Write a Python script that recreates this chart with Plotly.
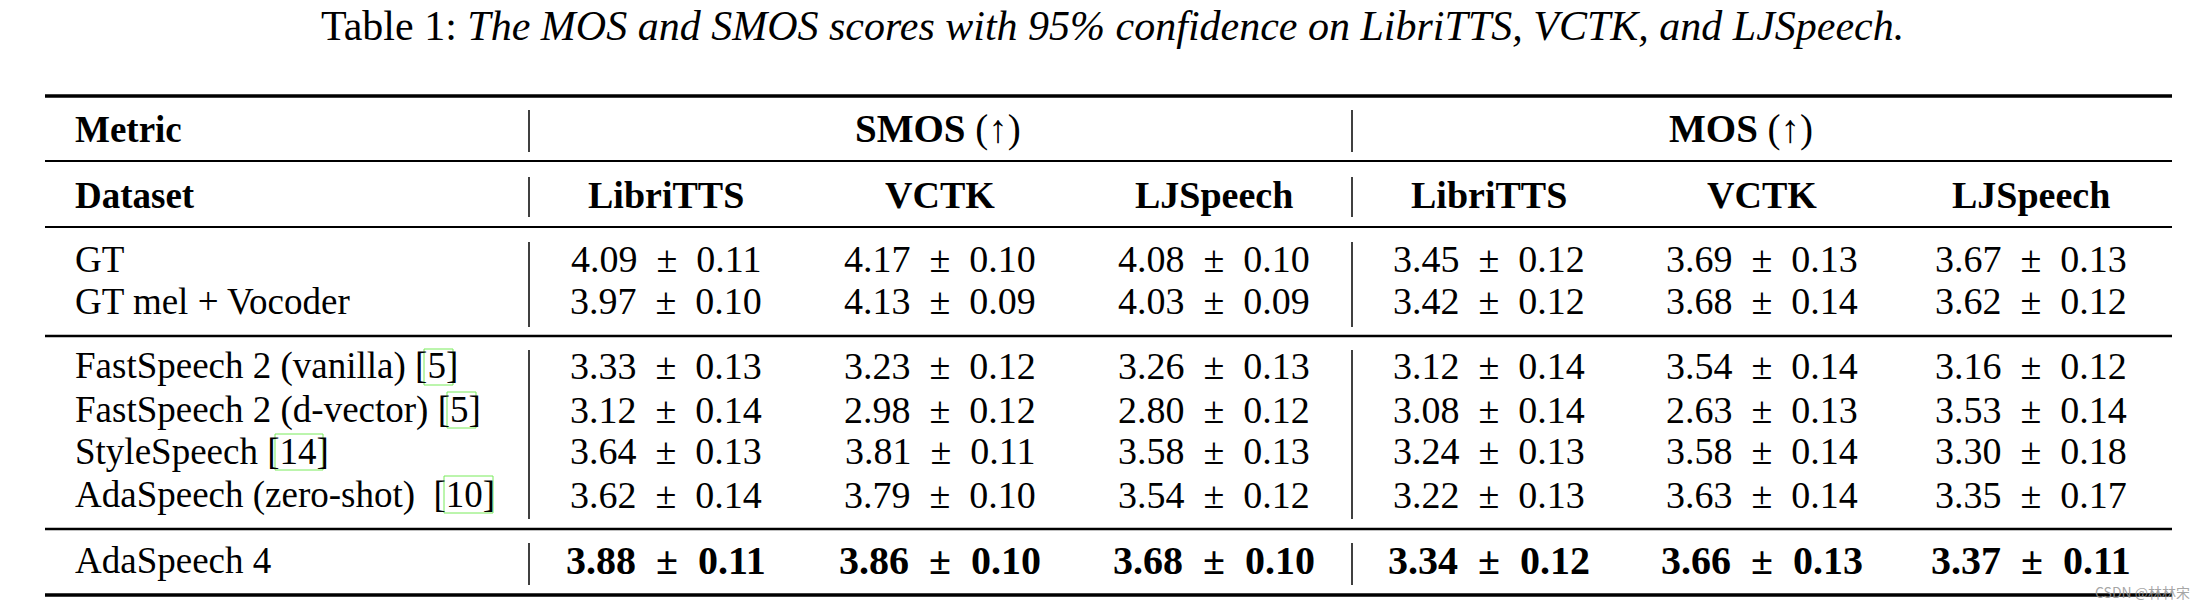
import plotly.graph_objects as go

# ---------------- data ----------------
methods = ["GT", "GT mel + Vocoder", "FastSpeech 2 (vanilla) [5]", "FastSpeech 2 (d-vector) [5]",
           "StyleSpeech [14]", "AdaSpeech (zero-shot)  [10]", "AdaSpeech 4"]
datasets = ["LibriTTS", "VCTK", "LJSpeech"]
metrics = ["SMOS", "MOS"]

smos_libritts = [4.09, 3.97, 3.33, 3.12, 3.64, 3.62, 3.88]
smos_libritts_ci = [0.11, 0.10, 0.13, 0.14, 0.13, 0.14, 0.11]
smos_vctk = [4.17, 4.13, 3.23, 2.98, 3.81, 3.79, 3.86]
smos_vctk_ci = [0.10, 0.09, 0.12, 0.12, 0.11, 0.10, 0.10]
smos_ljspeech = [4.08, 4.03, 3.26, 2.80, 3.58, 3.54, 3.68]
smos_ljspeech_ci = [0.10, 0.09, 0.13, 0.12, 0.13, 0.12, 0.10]
mos_libritts = [3.45, 3.42, 3.12, 3.08, 3.24, 3.22, 3.34]
mos_libritts_ci = [0.12, 0.12, 0.14, 0.14, 0.13, 0.13, 0.12]
mos_vctk = [3.69, 3.68, 3.54, 2.63, 3.58, 3.63, 3.66]
mos_vctk_ci = [0.13, 0.14, 0.14, 0.13, 0.14, 0.14, 0.13]
mos_ljspeech = [3.67, 3.62, 3.16, 3.53, 3.30, 3.35, 3.37]
mos_ljspeech_ci = [0.13, 0.12, 0.12, 0.14, 0.18, 0.17, 0.11]

title_text = "Table 1: <i>The MOS and SMOS scores with 95% confidence on LibriTTS, VCTK, and LJSpeech.</i>"
watermark = "CSDN @林林宋"

# ---------------- layout constants (page pixel coordinates) ----------------
W, H = 2208, 612
FONT = "Liberation Serif"
FS = 37
label_x = 73
col_x = [666, 940, 1214, 1489, 1762, 2031]
group_x = [938, 1741]
header_y = [129, 195]
row_y = [259, 301, 366, 410, 451, 495, 560]
rules = [(96, 3.5), (161, 2), (227, 2), (336, 2.5), (529, 2.5), (595, 3.5)]
rule_x = (45, 2172)
vlines_x = [529, 1352]
vseg = [(110, 152), (177, 217), (242, 327), (350, 519), (543, 585)]
cite_boxes = [(424, 453, 349, 385), (447, 476, 392, 428), (275, 323, 434, 470), (444, 493, 476, 513)]

columns = [(smos_libritts, smos_libritts_ci), (smos_vctk, smos_vctk_ci), (smos_ljspeech, smos_ljspeech_ci),
           (mos_libritts, mos_libritts_ci), (mos_vctk, mos_vctk_ci), (mos_ljspeech, mos_ljspeech_ci)]

fig = go.Figure()
fig.add_trace(go.Scatter(x=[1, W - 1], y=[1, H - 1], mode="markers",
                         marker=dict(opacity=0), hoverinfo="skip", showlegend=False))

ann = []


def txt(x, y, s, size=FS, anchor="center", color="black", family=FONT, yanchor="middle"):
    ann.append(dict(x=x, y=y, xref="x", yref="y", text=s, showarrow=False, xanchor=anchor,
                    yanchor=yanchor, font=dict(family=family, size=size, color=color)))


# title
txt(1112, 1, title_text, size=42, yanchor="top")

# headers
txt(label_x, header_y[0], "<b>Metric</b>", anchor="left")
txt(label_x, header_y[1], "<b>Dataset</b>", anchor="left")
for gx, m in zip(group_x, metrics):
    txt(gx, header_y[0], f"<b>{m}</b> (↑)", size=39)
for i, cx in enumerate(col_x):
    txt(cx, header_y[1], f"<b>{datasets[i % 3]}</b>", size=38)

# rows
n = len(methods)
for r in range(n):
    txt(label_x, row_y[r], methods[r], anchor="left")
    for c, (vals, cis) in enumerate(columns):
        if r == n - 1:
            s = f"<b>{vals[r]:.2f}\u2002±\u2002{cis[r]:.2f}</b>"
            txt(col_x[c], row_y[r], s, size=40)
        else:
            s = f"{vals[r]:.2f}\u2002±\u2002{cis[r]:.2f}"
            txt(col_x[c], row_y[r], s, size=38)

# watermark
txt(2192, 592, watermark, size=14, anchor="right", color="rgba(150,150,150,0.85)",
    family="Noto Sans CJK SC")

shapes = []
for y, w in rules:
    shapes.append(dict(type="line", xref="x", yref="y", x0=rule_x[0], x1=rule_x[1], y0=y, y1=y,
                       line=dict(color="black", width=w)))
for vx in vlines_x:
    for a, b in vseg:
        shapes.append(dict(type="line", xref="x", yref="y", x0=vx, x1=vx, y0=a, y1=b,
                           line=dict(color="black", width=1.5)))
for x0, x1, y0, y1 in cite_boxes:
    shapes.append(dict(type="rect", xref="x", yref="y", x0=x0, x1=x1, y0=y0, y1=y1,
                       line=dict(color="rgb(120,235,90)", width=1)))

fig.update_layout(
    width=W, height=H, margin=dict(l=0, r=0, t=0, b=0, autoexpand=False),
    paper_bgcolor="white", plot_bgcolor="white",
    xaxis=dict(range=[0, W], visible=False, fixedrange=True),
    yaxis=dict(range=[H, 0], visible=False, fixedrange=True),
    annotations=ann, shapes=shapes, showlegend=False,
)
fig.write_html("out.html", config={"displayModeBar": False},
               post_script="document.body.style.margin='0';document.body.style.overflow='hidden';")
